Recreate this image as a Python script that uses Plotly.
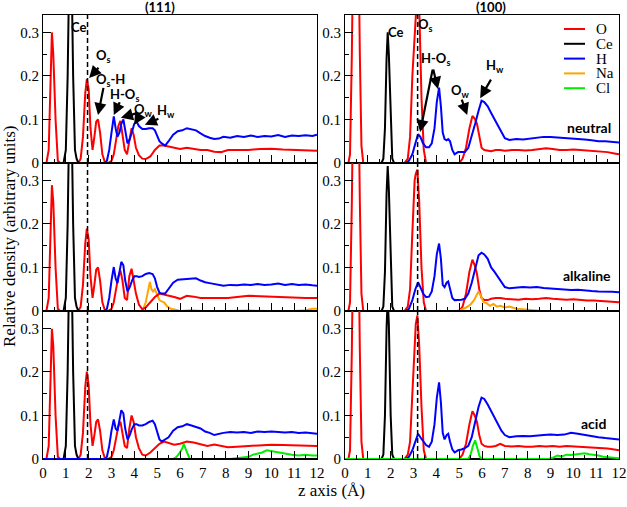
import plotly.graph_objects as go

# ---------------- data ----------------
x_111_O = [0, 0.15, 0.25, 0.32, 0.39, 0.45, 0.55, 0.65, 0.75,
           1.55, 1.65, 1.75, 1.85, 1.92, 2.0, 2.08, 2.17, 2.25, 2.33, 2.41, 2.5, 2.6, 2.72, 2.85,
           3.0, 3.1, 3.2, 3.3, 3.39, 3.48, 3.58, 3.68, 3.78, 3.88, 3.97, 4.07, 4.2, 4.35, 4.5, 4.7, 4.9,
           5.1, 5.3, 5.5, 5.75, 6.0, 6.3, 6.6, 6.9, 7.2, 7.5, 7.8, 8.1, 8.5, 9.0, 9.5, 10.0, 10.5, 11.0, 11.5, 12.0]
O_111_neutral = [0, 0, 0.03, 0.2, 0.3, 0.25, 0.1, 0.005, 0,
                 0, 0.01, 0.06, 0.16, 0.193, 0.17, 0.08, 0.03, 0.06, 0.095, 0.1, 0.07, 0.02, 0, 0,
                 0.005, 0.02, 0.05, 0.085, 0.097, 0.07, 0.03, 0.02, 0.05, 0.08, 0.065, 0.035, 0.018, 0.01, 0.009, 0.015, 0.03,
                 0.04, 0.04, 0.038, 0.035, 0.032, 0.035, 0.033, 0.03, 0.03, 0.026, 0.025, 0.03, 0.03, 0.03, 0.032, 0.033, 0.031, 0.03, 0.03, 0.028]
O_111_alkaline = [0, 0, 0.03, 0.19, 0.289, 0.25, 0.1, 0.005, 0,
                  0, 0.01, 0.06, 0.155, 0.189, 0.165, 0.08, 0.03, 0.06, 0.095, 0.1, 0.07, 0.02, 0, 0,
                  0.005, 0.02, 0.05, 0.08, 0.093, 0.07, 0.03, 0.025, 0.08, 0.097, 0.07, 0.04, 0.015, 0.004, 0.008, 0.02, 0.032,
                  0.04, 0.038, 0.036, 0.032, 0.028, 0.035, 0.033, 0.03, 0.03, 0.03, 0.03, 0.03, 0.032, 0.035, 0.034, 0.033, 0.032, 0.03, 0.03, 0.03]
O_111_acid = [0, 0, 0.03, 0.2, 0.299, 0.26, 0.1, 0.005, 0,
              0, 0.01, 0.06, 0.165, 0.201, 0.17, 0.08, 0.03, 0.055, 0.085, 0.091, 0.065, 0.02, 0, 0,
              0.005, 0.02, 0.045, 0.075, 0.086, 0.06, 0.03, 0.025, 0.07, 0.1, 0.085, 0.05, 0.025, 0.01, 0.008, 0.015, 0.025,
              0.035, 0.04, 0.037, 0.033, 0.035, 0.04, 0.038, 0.034, 0.03, 0.033, 0.03, 0.027, 0.028, 0.03, 0.032, 0.033, 0.032, 0.031, 0.03, 0.03]

x_111_H = [0, 2.7, 2.8, 2.9, 3.0,
           3.1, 3.18, 3.26, 3.35, 3.43, 3.52, 3.6, 3.7, 3.8, 3.9,
           4.0, 4.1, 4.2, 4.35, 4.5, 4.65, 4.8, 4.9, 5.0, 5.1,
           5.2, 5.35, 5.5, 5.7, 5.9, 6.1, 6.3, 6.5, 6.7, 6.9,
           7.1, 7.3, 7.5, 7.7, 7.9, 8.2, 8.5, 8.8, 9.1, 9.4,
           9.7, 10.0, 10.3, 10.6, 10.9, 11.2, 11.5, 11.8, 12.0]
H_111_neutral = [0, 0, 0.005, 0.03, 0.07,
                 0.107, 0.08, 0.06, 0.07, 0.09, 0.1, 0.075, 0.045, 0.055, 0.075,
                 0.09, 0.095, 0.085, 0.078, 0.078, 0.08, 0.08, 0.075, 0.06, 0.05,
                 0.045, 0.04, 0.05, 0.065, 0.073, 0.075, 0.08, 0.078, 0.075, 0.068,
                 0.062, 0.058, 0.055, 0.056, 0.06, 0.058, 0.062, 0.06, 0.063, 0.06,
                 0.062, 0.061, 0.064, 0.06, 0.063, 0.062, 0.064, 0.062, 0.065]
H_111_alkaline = [0, 0, 0.005, 0.03, 0.07,
                  0.101, 0.075, 0.064, 0.09, 0.113, 0.105, 0.07, 0.045, 0.055, 0.07,
                  0.08, 0.08, 0.078, 0.08, 0.085, 0.087, 0.085, 0.075, 0.055, 0.042,
                  0.04, 0.04, 0.05, 0.065, 0.072, 0.073, 0.074, 0.075, 0.075, 0.07,
                  0.066, 0.064, 0.062, 0.06, 0.058, 0.06, 0.059, 0.061, 0.06, 0.062,
                  0.06, 0.061, 0.063, 0.06, 0.062, 0.06, 0.061, 0.059, 0.058]
H_111_acid = [0, 0, 0.005, 0.03, 0.065,
              0.091, 0.07, 0.065, 0.09, 0.112, 0.105, 0.07, 0.045, 0.055, 0.07,
              0.08, 0.08, 0.077, 0.077, 0.08, 0.085, 0.088, 0.08, 0.06, 0.045,
              0.04, 0.045, 0.05, 0.065, 0.073, 0.075, 0.08, 0.077, 0.074, 0.07,
              0.063, 0.06, 0.055, 0.058, 0.06, 0.062, 0.061, 0.062, 0.06, 0.063,
              0.062, 0.063, 0.062, 0.061, 0.062, 0.06, 0.061, 0.059, 0.058]

x_111_Ce = [0, 0.9, 1.0, 1.08, 1.15, 1.2, 1.25, 1.32, 1.4, 1.47, 1.55, 12]
Ce_111 = [0, 0, 0.03, 0.2, 0.45, 0.6, 0.45, 0.2, 0.03, 0.01, 0, 0]

x_111_Na = [0, 4.35, 4.5, 4.6, 4.68, 4.75, 4.82, 4.9, 5.0, 5.1, 5.2, 5.3, 5.45, 5.6, 5.8, 6.0, 6.5, 7.0, 8.0, 9.0, 10.0, 11.0, 11.5, 11.8, 12.0]
Na_111_alkaline = [0, 0, 0.02, 0.05, 0.067, 0.05, 0.045, 0.05, 0.035, 0.025, 0.022, 0.02, 0.01, 0.005, 0.003, 0, 0.002, 0, 0, 0.001, 0, 0, 0.002, 0.005, 0.005]

x_111_Cl = [0, 5.7, 5.85, 6.0, 6.1, 6.17, 6.27, 6.35, 6.43, 8.2, 8.6, 9.0, 9.2, 9.4, 9.6, 9.8, 10.0, 10.3, 10.6, 10.9, 11.2, 11.5, 11.8, 12.0]
Cl_111_acid = [0, 0, 0.005, 0.015, 0.025, 0.034, 0.02, 0.008, 0, 0, 0.003, 0.005, 0.01, 0.012, 0.015, 0.02, 0.018, 0.015, 0.012, 0.01, 0.008, 0.01, 0.008, 0.008]

x_100_O = [0, 0.15, 0.22, 0.3, 0.38, 0.48, 0.58, 0.65, 0.72, 0.8,
           2.6, 2.75, 2.85, 2.95, 3.05, 3.1, 3.17, 3.25, 3.35, 3.45, 3.55,
           5.0, 5.15, 5.3, 5.45, 5.58, 5.68, 5.78, 5.88, 5.98,
           6.1, 6.25, 6.4, 6.6, 6.8, 7.0, 7.3, 7.6, 7.9, 8.2,
           8.5, 8.8, 9.1, 9.4, 9.7, 10.0, 10.3, 10.6, 10.9, 11.2, 11.5, 11.8, 12.0]
O_100_neutral = [0, 0, 0.02, 0.25, 0.6, 0.75, 0.55, 0.25, 0.04, 0,
                 0, 0.01, 0.06, 0.2, 0.32, 0.36, 0.4, 0.36, 0.15, 0.03, 0,
                 0, 0.01, 0.035, 0.08, 0.108, 0.102, 0.09, 0.06, 0.035,
                 0.03, 0.028, 0.027, 0.03, 0.03, 0.028, 0.03, 0.03, 0.029, 0.03,
                 0.032, 0.034, 0.032, 0.03, 0.03, 0.031, 0.03, 0.029, 0.028, 0.027, 0.025, 0.022, 0.02]
O_100_alkaline = [0, 0, 0.02, 0.25, 0.6, 0.75, 0.55, 0.25, 0.04, 0,
                  0, 0.01, 0.05, 0.18, 0.3, 0.315, 0.325, 0.25, 0.1, 0.02, 0,
                  0, 0.01, 0.04, 0.09, 0.118, 0.105, 0.085, 0.05, 0.03,
                  0.025, 0.025, 0.028, 0.03, 0.03, 0.028, 0.027, 0.026, 0.028, 0.027,
                  0.028, 0.03, 0.028, 0.027, 0.026, 0.027, 0.025, 0.024, 0.024, 0.023, 0.021, 0.02, 0.02]
O_100_acid = [0, 0, 0.02, 0.25, 0.6, 0.75, 0.55, 0.25, 0.04, 0,
              0, 0.01, 0.04, 0.15, 0.28, 0.31, 0.33, 0.26, 0.12, 0.02, 0,
              0, 0.01, 0.035, 0.08, 0.11, 0.1, 0.085, 0.055, 0.035,
              0.03, 0.028, 0.028, 0.03, 0.035, 0.03, 0.029, 0.03, 0.028, 0.028,
              0.03, 0.029, 0.03, 0.028, 0.03, 0.029, 0.028, 0.028, 0.027, 0.026, 0.024, 0.022, 0.02]

x_100_H = [0, 2.65, 2.8, 2.95, 3.08,
           3.2, 3.3, 3.42, 3.55, 3.68, 3.8, 3.92, 4.02, 4.12, 4.2,
           4.28, 4.36, 4.45, 4.52, 4.6, 4.7, 4.8, 4.95, 5.1, 5.25,
           5.4, 5.55, 5.7, 5.85, 5.98, 6.1, 6.25, 6.4, 6.55, 6.7,
           6.85, 7.0, 7.2, 7.5, 7.8, 8.1, 8.4, 8.7, 9.0, 9.3,
           9.6, 9.9, 10.2, 10.5, 10.8, 11.1, 11.4, 11.7, 12.0]
H_100_neutral = [0, 0, 0.005, 0.02, 0.045,
                 0.066, 0.06, 0.045, 0.036, 0.036, 0.045, 0.08, 0.14, 0.173, 0.13,
                 0.07, 0.055, 0.052, 0.055, 0.05, 0.03, 0.02, 0.025, 0.025, 0.025,
                 0.035, 0.06, 0.09, 0.12, 0.143, 0.14, 0.13, 0.115, 0.1, 0.085,
                 0.07, 0.057, 0.053, 0.055, 0.054, 0.056, 0.058, 0.06, 0.06, 0.059,
                 0.058, 0.056, 0.055, 0.054, 0.052, 0.05, 0.05, 0.048, 0.047]
H_100_alkaline = [0, 0, 0.005, 0.025, 0.05,
                  0.066, 0.055, 0.04, 0.032, 0.033, 0.045, 0.08, 0.13, 0.155, 0.12,
                  0.06, 0.055, 0.065, 0.068, 0.05, 0.03, 0.025, 0.025, 0.026, 0.028,
                  0.04, 0.065, 0.1, 0.128, 0.134, 0.13, 0.12, 0.1, 0.09, 0.078,
                  0.065, 0.055, 0.052, 0.054, 0.055, 0.054, 0.055, 0.053, 0.052, 0.05,
                  0.05, 0.048, 0.049, 0.047, 0.046, 0.045, 0.045, 0.044, 0.043]
H_100_acid = [0, 0, 0.005, 0.02, 0.04,
              0.058, 0.05, 0.04, 0.032, 0.028, 0.04, 0.08, 0.14, 0.176, 0.13,
              0.06, 0.045, 0.055, 0.058, 0.04, 0.022, 0.015, 0.02, 0.022, 0.025,
              0.03, 0.05, 0.085, 0.12, 0.141, 0.138, 0.125, 0.11, 0.095, 0.08,
              0.065, 0.055, 0.05, 0.052, 0.053, 0.052, 0.054, 0.055, 0.056, 0.055,
              0.056, 0.06, 0.058, 0.055, 0.052, 0.05, 0.048, 0.047, 0.045]

x_100_Ce = [0, 1.6, 1.68, 1.75, 1.82, 1.87, 1.92, 2.0, 2.07, 2.15, 12]
Ce_100_neutral = [0, 0, 0.01, 0.08, 0.24, 0.3, 0.25, 0.09, 0.01, 0, 0]
Ce_100_alkaline = [0, 0, 0.01, 0.09, 0.27, 0.333, 0.28, 0.1, 0.01, 0, 0]
Ce_100_acid = [0, 0, 0.01, 0.1, 0.3, 0.37, 0.31, 0.1, 0.01, 0, 0]

x_100_Na = [0, 4.9, 5.1, 5.3, 5.5, 5.65, 5.75, 5.85, 5.95, 6.07, 6.2, 6.35, 6.5, 6.65, 6.8, 7.0, 7.2, 7.5, 7.8, 8.2, 8.6, 12]
Na_100_alkaline = [0, 0, 0.003, 0.008, 0.015, 0.025, 0.035, 0.045, 0.035, 0.02, 0.018, 0.012, 0.016, 0.01, 0.012, 0.008, 0.01, 0.005, 0.004, 0.002, 0, 0]

x_100_Cl = [0, 5.4, 5.5, 5.6, 5.7, 5.8, 5.9, 6.0, 8.9, 9.1, 9.3, 9.5, 9.7, 9.9, 10.1, 10.3, 10.5, 10.7, 10.9, 11.1, 11.3, 11.5, 11.8, 12]
Cl_100_acid = [0, 0, 0.01, 0.03, 0.043, 0.025, 0.005, 0, 0, 0.003, 0.008, 0.006, 0.01, 0.009, 0.01, 0.012, 0.013, 0.011, 0.01, 0.008, 0.005, 0.004, 0.002, 0.002]

surface_line = {"111": 1.95, "100": 3.18}
y_ticks = [0, 0.1, 0.2, 0.3]
y_tick_labels = ["0", "0.1", "0.2", "0.3"]
x_ticks = list(range(0, 13))
species = ["O", "Ce", "H", "Na", "Cl"]
colors = {"O": "#ff0000", "Ce": "#000000", "H": "#0000ff", "Na": "#ffa500", "Cl": "#00ee00"}
conditions = ["neutral", "alkaline", "acid"]

# ---------------- figure ----------------
W, H = 627, 507
col_px = [(43, 317), (345, 619)]
row_px = [(15, 163), (163, 311), (311, 459)]

panels = {
    (0, 0): [("O", x_111_O, O_111_neutral), ("Ce", x_111_Ce, Ce_111), ("H", x_111_H, H_111_neutral)],
    (1, 0): [("Na", x_111_Na, Na_111_alkaline), ("O", x_111_O, O_111_alkaline), ("Ce", x_111_Ce, Ce_111), ("H", x_111_H, H_111_alkaline)],
    (2, 0): [("Cl", x_111_Cl, Cl_111_acid), ("O", x_111_O, O_111_acid), ("Ce", x_111_Ce, Ce_111), ("H", x_111_H, H_111_acid)],
    (0, 1): [("O", x_100_O, O_100_neutral), ("Ce", x_100_Ce, Ce_100_neutral), ("H", x_100_H, H_100_neutral)],
    (1, 1): [("O", x_100_O, O_100_alkaline), ("Ce", x_100_Ce, Ce_100_alkaline), ("H", x_100_H, H_100_alkaline), ("Na", x_100_Na, Na_100_alkaline)],
    (2, 1): [("O", x_100_O, O_100_acid), ("Ce", x_100_Ce, Ce_100_acid), ("H", x_100_H, H_100_acid), ("Cl", x_100_Cl, Cl_100_acid)],
}

fig = go.Figure()
layout = dict(width=W, height=H, margin=dict(l=0, r=0, t=0, b=0, autoexpand=False),
              paper_bgcolor="white", plot_bgcolor="white", showlegend=False)
serif = "Liberation Serif, Times New Roman, serif"
sans = "Lato, Carlito, Liberation Sans, sans-serif"
shapes, annos = [], []

def ax_id(r, c):
    return r * 2 + c + 1

for (r, c), traces in panels.items():
    k = ax_id(r, c)
    xs = "" if k == 1 else str(k)
    x0p, x1p = col_px[c]
    y0p, y1p = row_px[r]
    layout["xaxis" + xs] = dict(
        domain=[x0p / W, x1p / W], anchor="y" + xs, range=[0, 12], automargin=False,
        tickvals=x_ticks, ticks="inside", ticklen=8, tickwidth=1, tickcolor="black",
        minor=dict(dtick=0.5, ticks="inside", ticklen=4, tickcolor="black"),
        showticklabels=(r == 2), showgrid=False, zeroline=False,
        showline=True, mirror=True, linecolor="black", linewidth=1,
        tickfont=dict(family=serif, size=15, color="black"))
    layout["yaxis" + xs] = dict(
        domain=[1 - y1p / H, 1 - y0p / H], anchor="x" + xs, range=[0, 0.34], automargin=False,
        tickvals=y_ticks, ticktext=y_tick_labels, ticks="inside", ticklen=8, tickcolor="black",
        minor=dict(dtick=0.05, ticks="inside", ticklen=4, tickcolor="black"),
        showgrid=False, zeroline=False,
        showline=True, mirror=True, linecolor="black", linewidth=1,
        tickfont=dict(family=serif, size=15, color="black"))
    for sp, xv, yv in traces:
        fig.add_trace(go.Scatter(x=xv, y=yv, mode="lines", name=sp,
                                 line=dict(color=colors[sp], width=2),
                                 xaxis="x" + xs, yaxis="y" + xs, hoverinfo="skip"))
    xd = surface_line["111"] if c == 0 else surface_line["100"]
    shapes.append(dict(type="line", xref="x" + xs, yref="y" + xs + " domain",
                       x0=xd, x1=xd, y0=0, y1=1,
                       line=dict(color="black", width=1.5, dash="5px,3px")))
    # condition labels
    if c == 1:
        lab = conditions[r]
        annos.append(dict(x=11.75 if r < 2 else 11.5, y=0.082, xref="x" + xs, yref="y" + xs,
                          text="<b>%s</b>" % lab, showarrow=False, xanchor="right", yanchor="middle",
                          font=dict(family=sans, size=14, color="black")))

def label(k, x, y, text, size=13):
    xs = "" if k == 1 else str(k)
    annos.append(dict(x=x, y=y, xref="x" + xs, yref="y" + xs, text="<b>%s</b>" % text,
                      showarrow=False, xanchor="center", yanchor="middle",
                      font=dict(family=sans, size=size, color="black")))

def arrow(k, tx, ty, hx, hy):
    xs = "" if k == 1 else str(k)
    annos.append(dict(x=hx, y=hy, ax=tx, ay=ty, xref="x" + xs, yref="y" + xs,
                      axref="x" + xs, ayref="y" + xs, text="", showarrow=True,
                      arrowhead=2, arrowsize=1.1, arrowwidth=2.2, arrowcolor="black"))

# (111) neutral annotations
label(1, 1.56, 0.313, "Ce")
label(1, 2.63, 0.245, "O<sub>s</sub>")
arrow(1, 2.49, 0.222, 2.02, 0.195)
label(1, 2.95, 0.19, "O<sub>s</sub>-H")
arrow(1, 2.66, 0.176, 2.41, 0.11)
label(1, 3.58, 0.156, "H-O<sub>s</sub>")
arrow(1, 3.39, 0.143, 3.1, 0.11)
label(1, 4.42, 0.121, "O<sub>w</sub>")
arrow(1, 4.15, 0.115, 3.41, 0.104)
arrow(1, 4.21, 0.107, 3.99, 0.088)
label(1, 5.38, 0.12, "H<sub>w</sub>")
arrow(1, 5.12, 0.103, 4.46, 0.088)

# (100) neutral annotations
label(2, 2.2, 0.301, "Ce")
label(2, 3.53, 0.318, "O<sub>s</sub>")
label(2, 3.95, 0.239, "H-O<sub>s</sub>")
arrow(2, 3.85, 0.218, 3.29, 0.071)
arrow(2, 3.85, 0.218, 4.07, 0.17)
label(2, 5.05, 0.166, "O<sub>w</sub>")
arrow(2, 5.09, 0.149, 5.35, 0.11)
label(2, 6.58, 0.222, "H<sub>w</sub>")
arrow(2, 6.43, 0.195, 5.92, 0.149)

def paper_text(px, py, text, font, **kw):
    d = dict(x=px / W, y=1 - py / H, xref="paper", yref="paper", text=text,
             showarrow=False, xanchor="center", yanchor="middle", font=font)
    d.update(kw)
    annos.append(d)

# panel titles
paper_text(160, 7, "<b>(111)</b>", dict(family=sans, size=13, color="black"))
paper_text(491, 7, "<b>(100)</b>", dict(family=sans, size=13, color="black"))

# axis titles
paper_text(10, 237, "Relative density (arbitrary units)", dict(family=serif, size=17, color="black"),
           textangle=-90)
paper_text(331, 490, "z axis (Å)", dict(family=serif, size=17, color="black"))

# legend (manual)
for i, sp in enumerate(species):
    yp = 29 + i * 14.8
    shapes.append(dict(type="line", xref="paper", yref="paper",
                       x0=564 / W, x1=585 / W, y0=1 - yp / H, y1=1 - yp / H,
                       line=dict(color=colors[sp], width=2)))
    paper_text(594, yp, sp, dict(family=serif, size=15, color="black"), xanchor="left")

layout["shapes"] = shapes
layout["annotations"] = annos
fig.update_layout(**layout)
fig.write_html("out.html", config={"displayModeBar": False, "staticPlot": True},
               post_script="document.body.style.margin='0';document.body.style.overflow='hidden';")
